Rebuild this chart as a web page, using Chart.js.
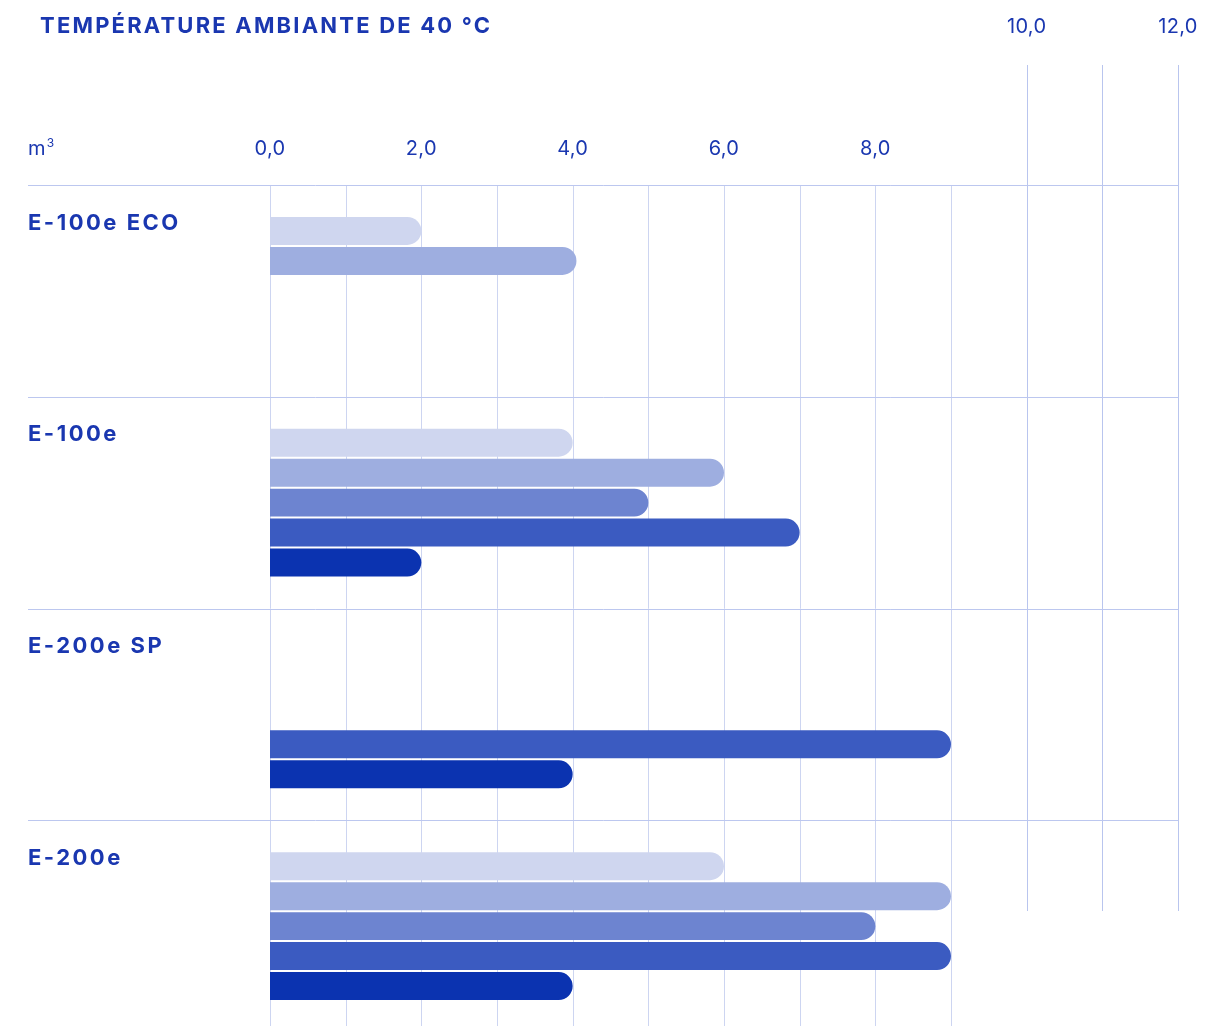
<!DOCTYPE html>
<html><head><meta charset="utf-8">
<script src="https://cdn.jsdelivr.net/npm/chart.js@4.4.0/dist/chart.umd.min.js"></script>
<style>
html,body{margin:0;padding:0;background:#fff;overflow:hidden;}
#wrap{position:relative;width:1229px;height:1040px;}
</style></head>
<body>
<div id="wrap"><canvas id="c"></canvas></div>
<script>
const title = 'TEMPÉRATURE AMBIANTE DE 40 °C';
const unitLabel = 'm³';
const categories = ['E-100e ECO', 'E-100e', 'E-200e SP', 'E-200e'];
const seriesNames = ['Série 1', 'Série 2', 'Série 3', 'Série 4', 'Série 5'];
const series1 = [2, 4, null, 6];
const series2 = [4.05, 6, null, 9];
const series3 = [null, 5, null, 8];
const series4 = [null, 7, 9, 9];
const series5 = [null, 2, 4, 4];
const lowerTicks = [0, 2, 4, 6, 8];
const upperTicks = [10, 12];
const gridValues = [0, 1, 2, 3, 4, 5, 6, 7, 8, 9, 10, 11, 12];

const colors = ['#cfd6ef', '#9eaee0', '#6d84d0', '#3b5bc1', '#0b33b0'];
const textColor = '#1a37b0';
const fmt = v => v.toFixed(1).replace('.', ',');

const allSeries = [series1, series2, series3, series4, series5];

const decor = {
  id: 'decor',
  beforeDatasetsDraw(chart) {
    const ctx = chart.ctx, x = chart.scales.x, y = chart.scales.y, ca = chart.chartArea;
    ctx.save();
    ctx.lineWidth = 1;
    gridValues.forEach(v => {
      const px = Math.round(x.getPixelForValue(v)) + 0.5;
      ctx.strokeStyle = v >= 10 ? '#b9c5ee' : '#cdd5f1';
      ctx.beginPath();
      if (v >= 10) { ctx.moveTo(px, 65); ctx.lineTo(px, 911); }
      else { ctx.moveTo(px, ca.top); ctx.lineTo(px, ca.bottom); }
      ctx.stroke();
    });
    const band = (ca.bottom - ca.top) / categories.length;
    ctx.strokeStyle = '#bcc7ef';
    categories.forEach((c, i) => {
      const py = Math.round(y.getPixelForValue(i) - band / 2) + 0.5;
      ctx.beginPath(); ctx.moveTo(28, py); ctx.lineTo(x.getPixelForValue(12) + 0.5, py); ctx.stroke();
    });
    ctx.restore();
  },
  afterDatasetsDraw(chart) {
    const ctx = chart.ctx, x = chart.scales.x, y = chart.scales.y, ca = chart.chartArea;
    const band = (ca.bottom - ca.top) / categories.length;
    ctx.save();
    ctx.fillStyle = textColor;
    ctx.font = 'bold 22px Inter';
    ctx.letterSpacing = '2.2px';
    ctx.textAlign = 'left'; ctx.textBaseline = 'middle';
    ctx.fillText(title, 40, 26);
    ctx.font = 'bold 22px Inter';
    ctx.letterSpacing = '2.5px';
    categories.forEach((c, i) => {
      const top = y.getPixelForValue(i) - band / 2;
      ctx.fillText(c, 28, top + 38);
    });
    ctx.letterSpacing = '0.3px';
    ctx.font = '20px Inter';
    ctx.textAlign = 'left';
    ctx.fillText('m', 28, 149);
    const mw = ctx.measureText('m').width;
    ctx.font = '12px Inter';
    ctx.fillText('3', 28 + mw + 1, 143);
    ctx.font = '20px Inter';
    ctx.textAlign = 'center';
    lowerTicks.forEach(v => ctx.fillText(fmt(v), x.getPixelForValue(v), 149));
    upperTicks.forEach(v => ctx.fillText(fmt(v), x.getPixelForValue(v), 27));
    ctx.restore();
  }
};

new Chart(document.getElementById('c'), {
  type: 'bar',
  data: {
    labels: categories,
    datasets: allSeries.map((s, i) => ({
      label: seriesNames[i],
      data: s,
      backgroundColor: colors[i],
      borderWidth: 0,
      borderRadius: 14,
      borderSkipped: 'start',
      categoryPercentage: 0.708,
      barPercentage: 0.933
    }))
  },
  options: {
    indexAxis: 'y',
    responsive: true,
    maintainAspectRatio: false,
    animation: false,
    layout: { padding: { left: 270, right: 51, top: 185, bottom: 8 } },
    plugins: { legend: { display: false }, tooltip: { enabled: false } },
    scales: {
      x: { type: 'linear', min: 0, max: 12, display: false },
      y: { type: 'category', display: false, offset: true }
    }
  },
  plugins: [decor]
});
</script>
</body></html>
